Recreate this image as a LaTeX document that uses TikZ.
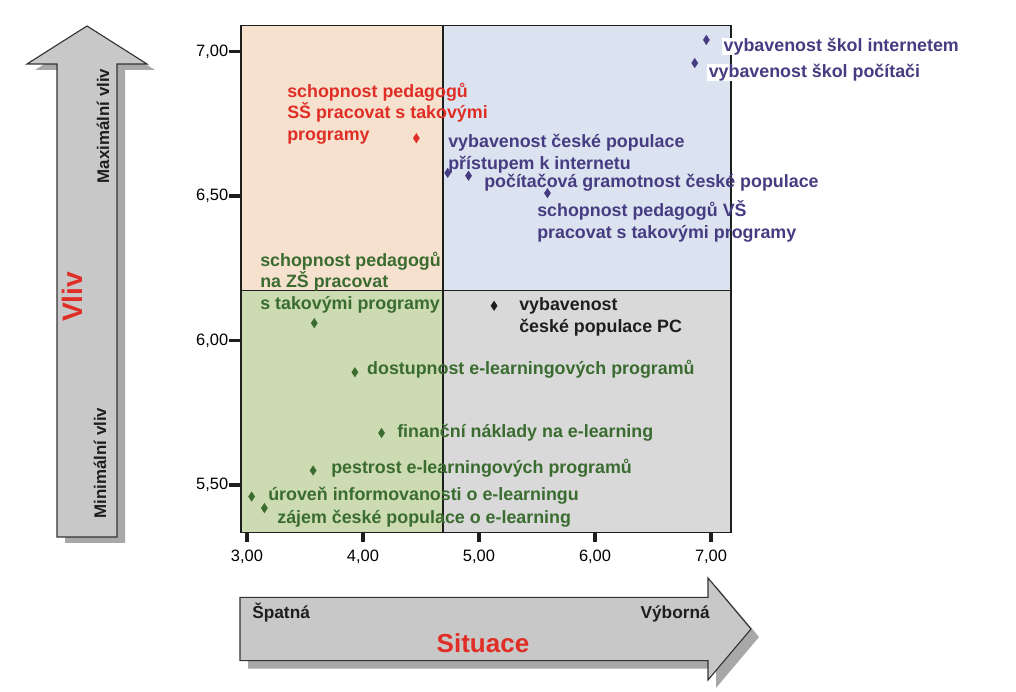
\documentclass[tikz,border=0pt]{standalone}
\usepackage{fontspec}
\setmainfont{Liberation Sans}
\usetikzlibrary{shapes.geometric}

\definecolor{txtred}{RGB}{224,46,38}
\definecolor{txtblue}{RGB}{70,60,130}
\definecolor{txtgreen}{RGB}{58,108,48}
\definecolor{txtblack}{RGB}{30,30,30}
\definecolor{qpeach}{RGB}{246,225,207}
\definecolor{qblue}{RGB}{220,227,240}
\definecolor{qgreen}{RGB}{205,219,178}
\definecolor{qgrey}{RGB}{217,217,217}
\definecolor{arrowfill}{RGB}{200,200,200}
\definecolor{arrowshadow}{RGB}{168,168,168}

\begin{document}
\begin{tikzpicture}[
    lbl/.style={anchor=west, inner sep=0pt, align=left, text=#1,
      font=\fontsize{12.7}{15.3}\selectfont\bfseries},
    datapt/.style={diamond, fill=#1, inner sep=0pt, minimum width=5pt, minimum height=7.5pt},
    num/.style={inner sep=0pt, font=\fontsize{11.7}{14}\selectfont},
    axtick/.style={line width=2.6pt, txtblack},
    bigarrow/.style={draw=black!80, fill=arrowfill, line width=0.8pt},
    arrowtxt/.style={inner sep=0pt, text=txtblack, font=\fontsize{12.3}{14}\selectfont\bfseries}
  ]
  \useasboundingbox (0,0) rectangle (25.4,17.3);

  % vertical arrow (Vliv)
  \fill[arrowshadow] (1.625,3.725) -- (1.625,15.55) -- (0.875,15.55) -- (2.375,16.5)
    -- (3.875,15.55) -- (3.125,15.55) -- (3.125,3.725) -- cycle;
  \draw[bigarrow] (1.425,3.875) -- (1.425,15.7) -- (0.675,15.7) -- (2.175,16.65)
    -- (3.675,15.7) -- (2.925,15.7) -- (2.925,3.875) -- cycle;
  \node[arrowtxt, rotate=90, font=\fontsize{12}{14}\selectfont\bfseries] (maxvliv) at (2.575,14.15) {Maximální vliv};
  \node[arrowtxt, rotate=90, text=txtred, font=\fontsize{20}{24}\selectfont\bfseries] (vliv) at (1.8,9.875) {Vliv};
  \node[arrowtxt, rotate=90, font=\fontsize{12}{14}\selectfont\bfseries] (minvliv) at (2.5,5.725) {Minimální vliv};

  % horizontal arrow (Situace)
  \fill[arrowshadow] (6.2,0.585) -- (17.9,0.585) -- (17.9,0.1) -- (18.975,1.375)
    -- (17.9,2.65) -- (17.9,2.165) -- (6.2,2.165) -- cycle;
  \draw[bigarrow] (6.0,0.785) -- (17.7,0.785) -- (17.7,0.3) -- (18.775,1.575)
    -- (17.7,2.85) -- (17.7,2.365) -- (6.0,2.365) -- cycle;
  \node[arrowtxt, anchor=west] (spatna) at (6.3,1.975) {Špatná};
  \node[arrowtxt, anchor=east] (vyborna) at (17.75,1.95) {Výborná};
  \node[arrowtxt, text=txtred, font=\fontsize{18.5}{22}\selectfont\bfseries] (situace) at (12.075,1.225) {Situace};

  \begin{scope}[x=2.9cm, y=7.225cm, shift={(-2.525cm,-34.5625cm)}]
    % quadrants
    \fill[qpeach] (2.948,6.173) rectangle (4.69,7.09);
    \fill[qblue] (4.69,6.173) rectangle (7.172,7.09);
    \fill[qgreen] (2.948,5.336) rectangle (4.69,6.173);
    \fill[qgrey] (4.69,5.336) rectangle (7.172,6.173);
    \draw[txtblack, line width=0.9pt] (2.948,5.336) rectangle (7.172,7.09);
    \draw[txtblack, line width=0.9pt] (4.69,5.336) -- (4.69,7.09);
    \draw[txtblack, line width=0.9pt] (2.948,6.173) -- (7.172,6.173);

    % axes
    \foreach \y/\t in {5.5/{5,50}, 6/{6,00}, 6.5/{6,50}, 7/{7,00}} {
      \draw[axtick] (2.948,\y) -- ++(-0.3cm,0);
      \node[num, anchor=east] at (2.84,\y) {\t};
    }
    \foreach \x/\t in {3/{3,00}, 4/{4,00}, 5/{5,00}, 6/{6,00}, 7/{7,00}} {
      \draw[axtick] (\x,5.336) -- ++(0,-0.25cm);
      \node[num] at (\x,5.2526) {\t};
    }

    % data points
    \node[datapt=txtred] (pss) at (4.46,6.70) {};
    \node[datapt=txtblue] (pinet) at (4.73,6.58) {};
    \node[datapt=txtblue] (pgram) at (4.91,6.57) {};
    \node[datapt=txtblue] (pvs) at (5.59,6.51) {};
    \node[datapt=txtblue] (pskinet) at (6.96,7.04) {};
    \node[datapt=txtblue] (pskpc) at (6.86,6.96) {};
    \node[datapt=txtgreen] (pzs) at (3.58,6.06) {};
    \node[datapt=txtblack] (ppc) at (5.13,6.12) {};
    \node[datapt=txtgreen] (pdost) at (3.93,5.89) {};
    \node[datapt=txtgreen] (pfin) at (4.16,5.68) {};
    \node[datapt=txtgreen] (ppest) at (3.57,5.55) {};
    \node[datapt=txtgreen] (puroven) at (3.04,5.46) {};
    \node[datapt=txtgreen] (pzajem) at (3.15,5.42) {};

    % labels
    \node[lbl=txtred] (lss) at (3.345,6.785) {schopnost pedagogů\\SŠ pracovat s takovými\\programy};
    \node[lbl=txtblue] (linet) at (4.733,6.647) {vybavenost české populace\\přístupem k internetu};
    \node[lbl=txtblue] (lgram) at (5.043,6.547) {počítačová gramotnost české populace};
    \node[lbl=txtblue] (lvs) at (5.5,6.412) {schopnost pedagogů VŠ\\pracovat s takovými programy};
    \node[lbl=txtblue, fill=white, inner xsep=1pt] (lskinet) at (7.095,7.017) {vybavenost škol internetem};
    \node[lbl=txtblue, fill=white, inner xsep=1pt] (lskpc) at (6.966,6.927) {vybavenost škol počítači};
    \node[lbl=txtgreen] (lzs) at (3.112,6.201) {schopnost pedagogů\\na ZŠ pracovat\\s takovými programy};
    \node[lbl=txtblack] (lpc) at (5.345,6.081) {vybavenost\\české populace PC};
    \node[lbl=txtgreen] (ldost) at (4.034,5.90) {dostupnost e-learningových programů};
    \node[lbl=txtgreen] (lfin) at (4.293,5.682) {finanční náklady na e-learning};
    \node[lbl=txtgreen] (lpest) at (3.724,5.557) {pestrost e-learningových programů};
    \node[lbl=txtgreen] (luroven) at (3.181,5.464) {úroveň informovanosti o e-learningu};
    \node[lbl=txtgreen] (lzajem) at (3.259,5.384) {zájem české populace o e-learning};
  \end{scope}
\end{tikzpicture}
\end{document}
